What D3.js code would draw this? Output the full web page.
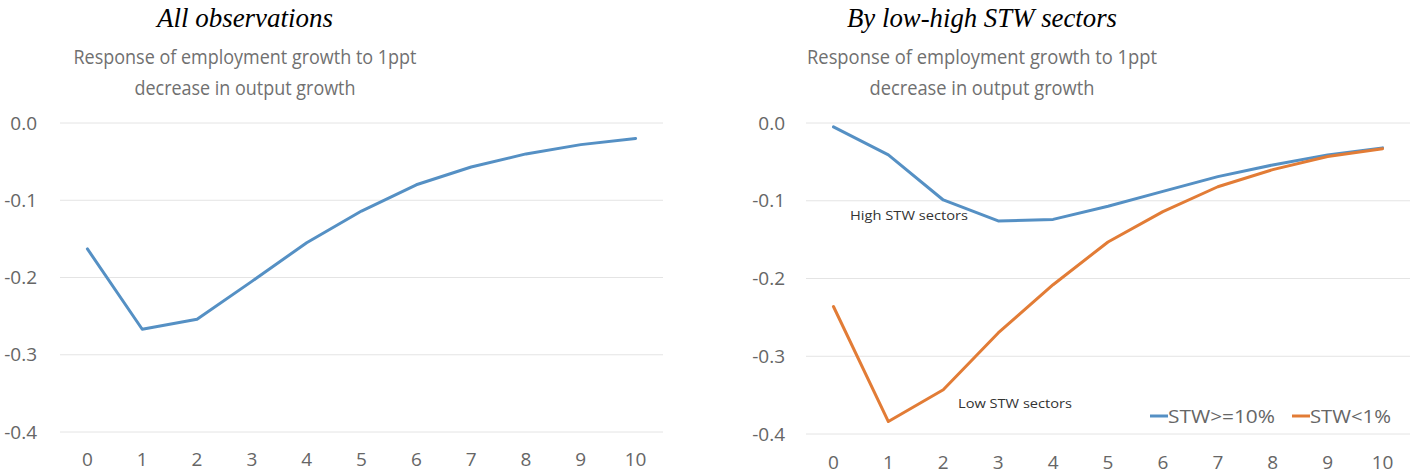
<!DOCTYPE html>
<html>
<head>
<meta charset="utf-8">
<script src="https://cdn.jsdelivr.net/npm/d3@7"></script>
<style>
  body { margin: 0; background: #fff; }
  svg { display: block; }
</style>
</head>
<body>
<div id="cont"></div>
<script>
// data //
var horizons = [0, 1, 2, 3, 4, 5, 6, 7, 8, 9, 10];
var yTicks = [0, -0.1, -0.2, -0.3, -0.4];

var allObs = [-0.163, -0.267, -0.254, -0.205, -0.155, -0.114, -0.080, -0.057, -0.040, -0.028, -0.020];
var highSTW = [-0.005, -0.041, -0.099, -0.126, -0.124, -0.107, -0.088, -0.069, -0.054, -0.041, -0.032];
var lowSTW = [-0.236, -0.384, -0.343, -0.270, -0.208, -0.153, -0.114, -0.082, -0.060, -0.043, -0.033];

var titles = ["All observations", "By low-high STW sectors"];
var subtitle = ["Response of employment growth to 1ppt", "decrease in output growth"];
var legendNames = ["STW>=10%", "STW<1%"];

var blue = "#5590c4";
var orange = "#e27c36";

var svg = d3.select("#cont").append("svg").attr("width", 1418).attr("height", 476);

var drawPanel = function(p) {
	var g = svg.append("g");

	var x = d3.scaleBand().domain(horizons).range([p.x0, p.x1]);
	var y = d3.scaleLinear().domain([-0.4, 0]).range([p.yBot, p.yTop]);

	// title + subtitle
	g.append("text")
		.attr("x", p.cx).attr("y", 27)
		.attr("text-anchor", "middle")
		.attr("font-family", "Liberation Serif, Times New Roman, serif")
		.attr("font-style", "italic")
		.attr("font-size", 28)
		.attr("textLength", p.titleW).attr("lengthAdjust", "spacingAndGlyphs")
		.text(p.title);

	subtitle.forEach(function(s, i) {
		g.append("text")
			.attr("x", p.cx).attr("y", 64 + i * 31)
			.attr("text-anchor", "middle")
			.attr("font-family", "Open Sans, sans-serif")
			.attr("font-size", 19.5)
			.attr("fill", "#707070")
			.attr("textLength", i == 0 ? p.subW : p.subW2).attr("lengthAdjust", "spacingAndGlyphs")
			.text(s);
	});

	// grid
	g.selectAll(".grid").data(yTicks).enter().append("line")
		.attr("x1", p.x0).attr("x2", p.x1)
		.attr("y1", function(d) { return y(d); })
		.attr("y2", function(d) { return y(d); })
		.attr("stroke", "#e4e4e4").attr("stroke-width", 1);

	var yAxis = d3.axisLeft(y).tickValues(yTicks).tickSize(0).tickPadding(0)
		.tickFormat(d3.format(".1f"));
	var ya = g.append("g").attr("transform", "translate(" + p.yLabX + ",0)").call(yAxis);
	ya.select(".domain").remove();
	ya.selectAll("text")
		.attr("font-family", "Open Sans, sans-serif")
		.attr("font-size", 19).attr("fill", "#666")
		.text(function(d) { return d === 0 ? "0.0" : d3.format(".1f")(d).replace("−", "-"); });

	var xAxis = d3.axisBottom(x).tickSize(0).tickPadding(0);
	var xa = g.append("g").attr("transform", "translate(0," + p.xLabY + ")").call(xAxis);
	xa.select(".domain").remove();
	xa.selectAll("text")
		.attr("font-family", "Open Sans, sans-serif")
		.attr("font-size", 19).attr("fill", "#666")
		.attr("dy", 0).attr("y", 0);

	var line = d3.line()
		.x(function(d, i) { return x(horizons[i]) + x.bandwidth() / 2; })
		.y(function(d) { return y(d); });

	p.series.forEach(function(s) {
		g.append("path")
			.attr("d", line(s.values))
			.attr("fill", "none")
			.attr("stroke", s.color)
			.attr("stroke-width", 3)
			.attr("stroke-linejoin", "round")
			.attr("stroke-linecap", "round");
	});
	return g;
};

drawPanel({
	x0: 60, x1: 663, yTop: 123, yBot: 432, yLabX: 37, xLabY: 466, cx: 245,
	title: titles[0], titleW: 176, subW: 343, subW2: 221,
	series: [{ values: allObs, color: blue }]
});

var right = drawPanel({
	x0: 806, x1: 1410, yTop: 123, yBot: 434, yLabX: 785, xLabY: 469, cx: 982,
	title: titles[1], titleW: 270, subW: 350, subW2: 225,
	series: [{ values: highSTW, color: blue }, { values: lowSTW, color: orange }]
});

// annotations
right.append("text").attr("x", 850).attr("y", 220)
	.attr("font-family", "Open Sans, sans-serif").attr("font-size", 12.5).attr("fill", "#333")
	.attr("textLength", 118).attr("lengthAdjust", "spacingAndGlyphs")
	.text("High STW sectors");
right.append("text").attr("x", 958).attr("y", 408)
	.attr("font-family", "Open Sans, sans-serif").attr("font-size", 12.5).attr("fill", "#333")
	.attr("textLength", 114).attr("lengthAdjust", "spacingAndGlyphs")
	.text("Low STW sectors");

// legend
var leg = right.append("g");
var legX = [1150, 1292];
var legW = [107, 81];
legendNames.forEach(function(n, i) {
	var c = i == 0 ? blue : orange;
	leg.append("line").attr("x1", legX[i]).attr("x2", legX[i] + 18)
		.attr("y1", 416).attr("y2", 416)
		.attr("stroke", c).attr("stroke-width", 3);
	leg.append("text").attr("x", legX[i] + 18).attr("y", 423)
		.attr("font-family", "Open Sans, sans-serif").attr("font-size", 19).attr("fill", "#666")
		.attr("textLength", legW[i]).attr("lengthAdjust", "spacingAndGlyphs")
		.text(n);
});
</script>
</body>
</html>
